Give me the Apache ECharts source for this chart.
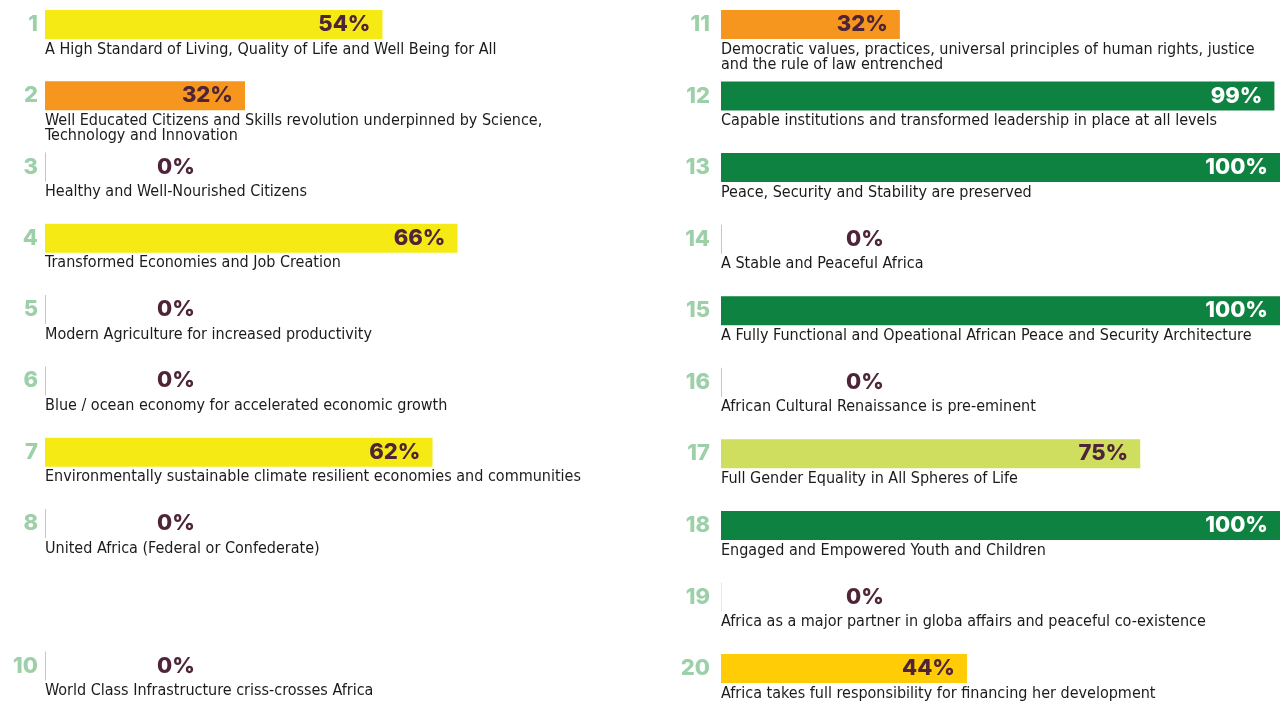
<!DOCTYPE html>
<html>
<head>
<meta charset="utf-8">
<script src="https://cdn.jsdelivr.net/npm/echarts@6/dist/echarts.min.js"></script>
<style>
  html, body { margin: 0; padding: 0; background: #ffffff; }
  #chart { width: 1282px; height: 704px; }
</style>
</head>
<body>
<div id="chart"></div>
<script>
// Goal numbers (slot 9 is left empty in the first column)
const leftGoals = ['1', '2', '3', '4', '5', '6', '7', '8', '', '10'];
const rightGoals = ['11', '12', '13', '14', '15', '16', '17', '18', '19', '20'];

// Progress per goal, in percent
const leftValues = [54, 32, 0, 66, 0, 0, 62, 0, null, 0];
const rightValues = [32, 99, 100, 0, 100, 0, 75, 100, 0, 44];

// Goal descriptions
const leftDesc = [
  'A High Standard of Living, Quality of Life and Well Being for All',
  'Well Educated Citizens and Skills revolution underpinned by Science,\nTechnology and Innovation',
  'Healthy and Well-Nourished Citizens',
  'Transformed Economies and Job Creation',
  'Modern Agriculture for increased productivity',
  'Blue / ocean economy for accelerated economic growth',
  'Environmentally sustainable climate resilient economies and communities',
  'United Africa (Federal or Confederate)',
  '',
  'World Class Infrastructure criss-crosses Africa'
];
const rightDesc = [
  'Democratic values, practices, universal principles of human rights, justice\nand the rule of law entrenched',
  'Capable institutions and transformed leadership in place at all levels',
  'Peace, Security and Stability are preserved',
  'A Stable and Peaceful Africa',
  'A Fully Functional and Opeational African Peace and Security Architecture',
  'African Cultural Renaissance is pre-eminent',
  'Full Gender Equality in All Spheres of Life',
  'Engaged and Empowered Youth and Children',
  'Africa as a major partner in globa affairs and peaceful co-existence',
  'Africa takes full responsibility for financing her development'
];

// Bar fills (style, kept apart from the values)
const YELLOW = '#F5EA14', ORANGE = '#F7961E', GREEN = '#0E8241',
      LIME = '#CFDE5E', GOLD = '#FFCC05', ZERO = '#EDB3BA', ZERO_FAINT = '#F3EBA8';
const leftColors = [YELLOW, ORANGE, ZERO, YELLOW, ZERO, ZERO, YELLOW, ZERO, ZERO, ZERO];
const rightColors = [ORANGE, GREEN, GREEN, ZERO, GREEN, ZERO, LIME, GREEN, ZERO_FAINT, GOLD];

const PCT_FONT = 'Inter, "Open Sans", sans-serif';
const DESC_FONT = '"DejaVu Sans Condensed", "Liberation Sans Narrow", sans-serif';

function mainSeries(values, colors, idx, zeroOffset) {
  return {
    type: 'bar',
    xAxisIndex: idx,
    yAxisIndex: idx,
    barWidth: 29,
    barGap: '-100%',
    barMinHeight: 1,
    silent: true,
    data: values.map((v, i) => v == null ? null : {
      value: v,
      itemStyle: { color: colors[i] },
      label: v === 0
        ? { position: 'right', distance: zeroOffset, color: '#4E2438' }
        : { position: 'insideRight', distance: 12, color: colors[i] === GREEN ? '#ffffff' : '#4E2438' }
    }),
    label: {
      show: true,
      formatter: '{c}%',
      fontFamily: PCT_FONT,
      fontWeight: 800,
      fontSize: 22
    }
  };
}

function descSeries(values, desc, idx) {
  return {
    type: 'bar',
    xAxisIndex: idx,
    yAxisIndex: idx,
    barWidth: 29,
    barGap: '-100%',
    silent: true,
    itemStyle: { color: 'rgba(0,0,0,0)' },
    data: values.map(v => v == null ? null : v),
    label: {
      show: true,
      position: ['0%', '100%'],
      offset: [0, 3],
      align: 'left',
      verticalAlign: 'top',
      formatter: p => desc[p.dataIndex],
      fontFamily: DESC_FONT,
      fontSize: 16,
      lineHeight: 15,
      color: '#1b1b1b'
    }
  };
}

function yAxis(goals, idx, margin) {
  return {
    type: 'category',
    gridIndex: idx,
    inverse: true,
    boundaryGap: false,
    data: goals,
    axisLine: { show: false },
    axisTick: { show: false },
    splitLine: { show: false },
    axisLabel: {
      margin: margin,
      fontFamily: PCT_FONT,
      fontWeight: 800,
      fontSize: 22,
      color: '#9DD0A8'
    }
  };
}

const chart = echarts.init(document.getElementById('chart'), null, { renderer: 'canvas' });
chart.setOption({
  animation: false,
  backgroundColor: '#ffffff',
  grid: [
    { left: 45, top: 24.5, width: 625, height: 641.5 },
    { left: 721, top: 24.5, width: 559, height: 644 }
  ],
  xAxis: [
    { type: 'value', gridIndex: 0, min: 0, max: 100, show: false },
    { type: 'value', gridIndex: 1, min: 0, max: 100, show: false }
  ],
  yAxis: [yAxis(leftGoals, 0, 7), yAxis(rightGoals, 1, 11)],
  series: [
    mainSeries(leftValues, leftColors, 0, 111),
    descSeries(leftValues, leftDesc, 0),
    mainSeries(rightValues, rightColors, 1, 124),
    descSeries(rightValues, rightDesc, 1)
  ]
});
</script>
</body>
</html>
